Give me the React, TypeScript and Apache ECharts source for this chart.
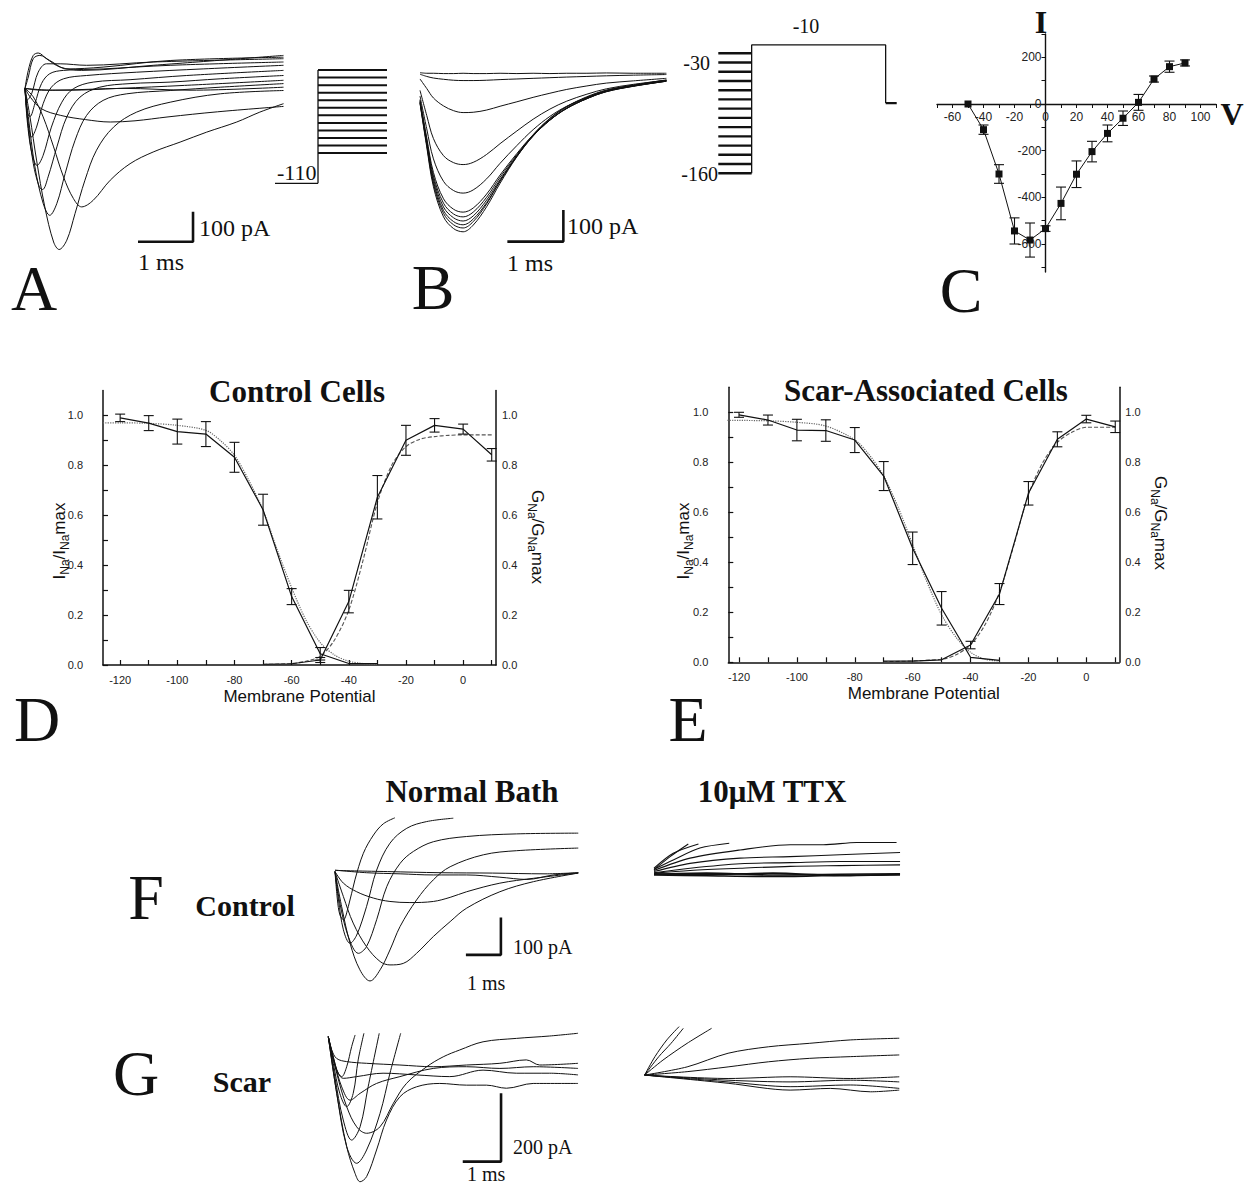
import React, { useEffect, useRef } from "react";
import * as echarts from "echarts";

const SERIF = "'Liberation Serif', 'Times New Roman', serif";
const SANS = "'Liberation Sans', Arial, sans-serif";
const INK = "#111";

// ---------------- Panel A : current traces (t ms, I pA) ----------------
const A_TRACES: number[][][] = [
  [[0,0],[0.1,-30],[0.3,-68],[0.65,-90],[1.1,-104],[1.55,-112],[2.0,-108],[2.6,-95],[3.5,-78],[4.7,-60]],
  [[0,0],[0.15,-28],[0.33,-95],[0.52,-195],[0.7,-295],[0.88,-367],[1.03,-395],[1.24,-373],[1.55,-306],[1.91,-251],[2.33,-212],[2.82,-179],[3.3,-146],[3.85,-112],[4.27,-79],[4.7,-51]],
  [[0,0],[0.09,-94],[0.21,-239],[0.36,-395],[0.52,-512],[0.62,-537],[0.76,-506],[0.91,-417],[1.09,-306],[1.3,-206],[1.61,-129],[2.03,-79],[2.64,-46],[3.55,-18],[4.7,-7]],
  [[0,0],[0.06,-94],[0.18,-261],[0.33,-383],[0.45,-423],[0.58,-383],[0.73,-284],[0.91,-173],[1.12,-90],[1.42,-40],[1.85,-18],[2.64,-7],[3.55,4],[4.7,16]],
  [[0,0],[0.04,-94],[0.15,-250],[0.26,-328],[0.32,-337],[0.42,-295],[0.58,-195],[0.76,-95],[1.0,-29],[1.36,4],[1.91,16],[2.64,21],[3.55,32],[4.7,43]],
  [[0,0],[0.04,-107],[0.12,-212],[0.22,-257],[0.33,-223],[0.48,-129],[0.67,-46],[0.88,-1],[1.24,21],[1.91,29],[2.94,43],[4.7,60]],
  [[0,0],[0.06,-117],[0.12,-162],[0.21,-129],[0.33,-51],[0.48,4],[0.7,32],[1.12,43],[2.03,54],[3.24,65],[4.7,77]],
  [[0,0],[0.04,-79],[0.09,-94],[0.18,-51],[0.3,16],[0.45,49],[0.7,60],[1.42,65],[2.64,77],[4.7,88]],
  [[0,0],[0.04,-39],[0.12,-18],[0.24,54],[0.39,82],[0.64,82],[1.12,77],[2.33,88],[4.7,99]],
  [[0,0],[0.06,38],[0.15,99],[0.27,110],[0.45,93],[0.76,65],[1.42,71],[2.64,93],[4.7,104]],
  [[0,0],[0.06,60],[0.15,110],[0.24,118],[0.39,99],[0.64,71],[1.03,60],[2.33,77],[4.7,110]],
  [[0,0],[0.5,-6],[1.8,0],[3.0,-6],[4.7,4]],
  [[0,0],[0.3,-6],[0.8,-6],[1.7,0],[2.9,10],[4.7,27]],
];
const A_PROTO_HOLD = -110;
const A_PROTO_STEPS = [-70, -60, -50, -40, -30, -20, -10, 0, 10, 20, 30, 40];

// ---------------- Panel B : steady-state inactivation traces ----------------
const B_TIME = [0, 0.12, 0.24, 0.42, 0.6, 0.77, 0.95, 1.19, 1.43, 1.73, 2.02, 2.32, 2.62, 2.98, 3.33, 3.81, 4.4];
const B_CURRENTS: number[][] = [
  [-97,-234,-360,-455,-492,-502,-481,-423,-349,-265,-197,-144,-107,-76,-55,-39,-23],
  [-95,-228,-351,-444,-480,-490,-470,-414,-342,-262,-196,-145,-108,-78,-56,-40,-24],
  [-93,-224,-344,-435,-470,-480,-462,-410,-342,-265,-200,-150,-112,-80,-58,-41,-25],
  [-91,-218,-335,-424,-458,-468,-452,-402,-337,-263,-200,-150,-113,-82,-59,-42,-26],
  [-88,-212,-326,-412,-446,-455,-440,-393,-330,-259,-198,-149,-113,-82,-60,-43,-27],
  [-85,-205,-315,-398,-431,-440,-427,-383,-323,-255,-196,-148,-112,-82,-60,-43,-27],
  [-74,-177,-272,-343,-372,-380,-370,-335,-286,-230,-180,-138,-106,-79,-58,-42,-27],
  [-56,-135,-208,-262,-284,-290,-283,-258,-224,-184,-147,-115,-90,-68,-51,-37,-24],
  [-20,-50,-80,-105,-120,-126,-125,-118,-106,-92,-78,-65,-53,-42,-33,-26,-18],
  [-5,-12,-17,-21,-24,-25,-25,-24,-22,-20,-18,-16,-14,-12,-10,-8,-6],
  [0,-2,-2,-3,-3,-2,-3,-3,-2,-3,-2,-3,-2,-2,-1,-2,-2],
];
const B_PROTO_PRE = [-160, -150, -140, -130, -120, -110, -100, -90, -80, -70, -60, -50, -40, -30];
const B_PROTO_TEST = -21;
const B_PROTO_AFTER = -84;

// ---------------- Panel C : I-V relation ----------------
const IV_V = [-50, -40, -30, -20, -10, 0, 10, 20, 30, 40, 50, 60, 70, 80, 90];
const IV_I = [0, -110, -300, -544, -583, -534, -426, -301, -204, -126, -61, 7, 107, 160, 176];
const IV_SEM = [0, 20, 40, 56, 73, 12, 70, 57, 44, 36, 31, 34, 13, 24, 13];
const C_X_TICKS = [-70,-60,-50,-40,-30,-20,-10,0,10,20,30,40,50,60,70,80,90,100,110];
const C_X_LABELS = [-60, -40, -20, 0, 20, 40, 60, 80, 100];
const C_Y_TICKS = [-700,-600,-500,-400,-300,-200,-100,0,100,200,300];
const C_Y_LABELS = [-600, -400, -200, 0, 200];

// ---------------- Panels D/E : inactivation & activation ----------------
const INACT_V = [-120, -110, -100, -90, -80, -70, -60, -50, -40, -30];
const ACT_V = [-70, -60, -50, -40, -30, -20, -10, 0, 10];

const D_INACT = [0.99, 0.969, 0.935, 0.925, 0.832, 0.622, 0.274, 0.045, 0.006, 0.006];
const D_INACT_SEM = [0.015, 0.03, 0.05, 0.05, 0.06, 0.062, 0.032, 0.025, 0, 0];
const D_ACT = [0.003, 0.005, 0.02, 0.254, 0.672, 0.9, 0.96, 0.945, 0.842];
const D_ACT_SEM = [0, 0, 0.01, 0.045, 0.087, 0.06, 0.027, 0.02, 0.025];
const D_INACT_FIT_V = [-126, -120, -110, -100, -90, -85, -80, -75, -70, -65, -60, -55, -50, -45, -40, -35, -30];
const D_INACT_FIT = [0.97, 0.97, 0.968, 0.96, 0.94, 0.9, 0.84, 0.74, 0.62, 0.46, 0.31, 0.18, 0.09, 0.04, 0.015, 0.006, 0.003];
const D_ACT_FIT_V = [-70, -60, -55, -50, -45, -40, -35, -30, -25, -20, -15, -10, -5, 0, 10];
const D_ACT_FIT = [0.002, 0.006, 0.015, 0.035, 0.1, 0.22, 0.42, 0.65, 0.8, 0.875, 0.905, 0.915, 0.92, 0.922, 0.922];

const E_INACT = [0.99, 0.969, 0.929, 0.927, 0.889, 0.745, 0.456, 0.216, 0.02, 0.008];
const E_INACT_SEM = [0.01, 0.02, 0.043, 0.043, 0.05, 0.058, 0.065, 0.067, 0, 0];
const E_ACT = [0.005, 0.005, 0.01, 0.069, 0.273, 0.676, 0.892, 0.973, 0.942];
const E_ACT_SEM = [0, 0, 0, 0.015, 0.042, 0.047, 0.03, 0.015, 0.023];
const E_INACT_FIT_V = [-124, -110, -100, -90, -80, -75, -70, -65, -60, -55, -50, -45, -40, -35, -30];
const E_INACT_FIT = [0.968, 0.966, 0.96, 0.945, 0.89, 0.83, 0.745, 0.62, 0.47, 0.32, 0.19, 0.1, 0.04, 0.012, 0.005];
const E_ACT_FIT_V = [-70, -50, -45, -40, -35, -30, -25, -20, -15, -10, -5, 0, 10];
const E_ACT_FIT = [0.002, 0.012, 0.03, 0.07, 0.15, 0.28, 0.47, 0.67, 0.8, 0.88, 0.92, 0.94, 0.94];

const DE_X_TICKS = [-120,-110,-100,-90,-80,-70,-60,-50,-40,-30,-20,-10,0,10];
const DE_X_LABELS = [-120, -100, -80, -60, -40, -20, 0];
const DE_Y_TICKS = [0, 0.1, 0.2, 0.3, 0.4, 0.5, 0.6, 0.7, 0.8, 0.9, 1.0];
const DE_Y_LABELS = [0, 0.2, 0.4, 0.6, 0.8, 1.0];

// ---------------- Panel F : control cell, normal bath & TTX ----------------
const F_NORMAL: number[][][] = [
  [[0,0],[0.07,-76],[0.14,-116],[0.24,-129],[0.38,-94],[0.57,-22],[0.81,49],[1.1,98],[1.38,128],[1.71,144]],
  [[0,0],[0.1,-76],[0.24,-156],[0.43,-192],[0.62,-170],[0.9,-94],[1.19,4],[1.57,76],[2.05,116],[2.62,134],[3.38,143]],
  [[0,0],[0.14,-85],[0.38,-174],[0.67,-219],[0.9,-201],[1.19,-129],[1.48,-40],[1.86,22],[2.24,54],[2.81,80],[3.76,94],[5.19,101],[6.95,103]],
  [[0,0],[0.19,-94],[0.43,-192],[0.71,-263],[1.0,-293],[1.29,-263],[1.57,-210],[1.86,-147],[2.33,-76],[2.81,-22],[3.29,13],[4.24,45],[5.19,56],[6.95,63]],
  [[0,0],[0.24,-67],[0.52,-138],[0.9,-201],[1.29,-241],[1.57,-250],[1.95,-246],[2.33,-219],[2.81,-174],[3.29,-134],[3.76,-98],[4.71,-54],[5.67,-27],[6.95,-4]],
  [[0,0],[0.24,-31],[0.62,-54],[1.1,-71],[1.57,-80],[2.14,-83],[2.81,-80],[3.29,-69],[3.76,-54],[4.71,-31],[5.67,-18],[6.95,-4]],
  [[0,4],[0.9,-3],[1.86,-6],[2.81,-9],[3.76,-9],[4.71,-15],[5.48,-21],[6.24,-9],[6.95,-3]],
  [[0,3],[1.5,0],[3.0,-3],[4.5,-4],[6.0,-6],[6.95,-3]],
];
const F_TTX: number[][][] = [
  [[0,12],[0.46,47],[0.98,81]],
  [[0,16],[0.55,56],[1.27,81]],
  [[0,13],[0.55,38],[1.31,70],[2.15,83]],
  [[0,10],[1.03,43],[2.46,65],[3.89,79],[4.84,79],[5.79,85],[6.27,85],[6.93,85]],
  [[0,7],[1.03,29],[2.46,43],[3.89,47],[5.31,52],[7.03,58]],
  [[0,4],[1.03,16],[2.46,28],[3.89,31],[5.31,34],[7.03,34]],
  [[0,3],[1.03,10],[2.46,16],[3.89,21],[5.31,23],[7.03,25]],
  [[0,0],[1.5,3],[3.4,-2],[5.31,0],[7.03,1]],
  [[0,-2],[1.5,-4],[3.4,-6],[5.31,-3],[7.03,-2]],
  [[0,1],[1.5,-1],[3.4,3],[5.31,-4],[7.03,0]],
];

// ---------------- Panel G : scar cell, normal bath & TTX ----------------
const G_NORMAL: number[][][] = [
  [[0,0],[0.09,-39],[0.22,-64],[0.48,-73],[1.0,-78],[1.87,-83],[2.74,-88],[3.61,-83],[4.48,-78],[5.17,-68],[5.52,-83],[6.52,-78]],
  [[0,0],[0.13,-59],[0.26,-107],[0.39,-122],[0.74,-117],[1.43,-107],[2.3,-112],[3.17,-117],[4.04,-98],[4.91,-107],[5.78,-107],[6.52,-112]],
  [[0,0],[0.17,-78],[0.35,-147],[0.57,-186],[0.83,-166],[1.26,-137],[1.87,-117],[2.74,-93],[3.61,-88],[4.48,-93],[5.35,-88],[6.52,-93]],
  [[0,0],[0.09,-49],[0.22,-98],[0.35,-117],[0.48,-88],[0.61,-29],[0.7,5]],
  [[0,0],[0.13,-78],[0.3,-166],[0.48,-205],[0.65,-166],[0.78,-68],[0.93,10]],
  [[0,0],[0.17,-117],[0.39,-244],[0.61,-303],[0.83,-264],[1.04,-147],[1.33,10]],
  [[0,0],[0.22,-166],[0.48,-322],[0.74,-371],[1.0,-332],[1.35,-225],[1.61,-107],[1.89,10]],
  [[0,0],[0.22,-166],[0.48,-322],[0.7,-401],[0.83,-425],[1.0,-410],[1.26,-332],[1.52,-244],[1.87,-176],[2.3,-147],[2.91,-137],[3.61,-142],[4.13,-142],[4.65,-151],[5.35,-137],[6.52,-137]],
  [[0,0],[0.22,-107],[0.48,-205],[0.74,-264],[1.0,-283],[1.35,-264],[1.7,-195],[2.04,-137],[2.57,-88],[3.0,-59],[3.43,-39],[4.04,-15],[4.91,-5],[5.78,2],[6.52,10]],
];
const G_TTX: number[][][] = [
  [[0,0],[0.27,54],[0.58,103],[0.9,142]],
  [[0,0],[0.37,54],[0.69,93],[1.01,137]],
  [[0,0],[0.48,44],[1.11,93],[1.75,137]],
  [[0,0],[1.11,24],[2.18,64],[3.24,83],[4.3,93],[5.37,103],[6.65,108]],
  [[0,0],[1.11,10],[2.18,24],[3.24,39],[4.3,49],[5.37,54],[6.65,59]],
  [[0,0],[2.18,-10],[3.8,-5],[5.37,-10],[6.65,-5]],
  [[0,0],[2.18,-15],[3.8,-20],[5.37,-15],[6.65,-20]],
  [[0,0],[2.18,-20],[3.8,-34],[5.37,-29],[6.65,-39]],
  [[0,0],[2.18,-24],[3.8,-44],[4.85,-39],[5.9,-49],[6.65,-44]],
];

// scale bars: 1 ms x 100 pA (200 pA in G)
const SCALE_MS = 1;
const SCALE_PA = 100;
const SCALE_PA_G = 200;

function buildOption() {
  const grids: any[] = [];
  const xAxes: any[] = [];
  const yAxes: any[] = [];
  const series: any[] = [];

  const hiddenGrid = (left: number, top: number, width: number, height: number, xr: number[], yr: number[]) => {
    const gi = grids.length;
    grids.push({ left, top, width, height, outerBoundsMode: "none" });
    xAxes.push({ gridIndex: gi, type: "value", min: xr[0], max: xr[1], show: false });
    yAxes.push({ gridIndex: gi, type: "value", min: yr[0], max: yr[1], show: false });
    return { x: xAxes.length - 1, y: yAxes.length - 1 };
  };

  const line = (ax: any, data: number[][], opts: any = {}) => {
    series.push({
      type: "line",
      xAxisIndex: ax.x,
      yAxisIndex: ax.y,
      data,
      showSymbol: false,
      symbol: "none",
      smooth: opts.smooth ?? false,
      silent: true,
      z: opts.z ?? 2,
      lineStyle: { color: opts.color ?? INK, width: opts.width ?? 1, type: opts.type ?? "solid" },
    });
  };

  const scaleBar = (ax: any, t0: number, i0: number, pa: number) => {
    line(ax, [[t0, i0], [t0 + SCALE_MS, i0], [t0 + SCALE_MS, i0 + pa]], { width: 2.6 });
  };

  const errorBars = (ax: any, xs: number[], ys: number[], errs: number[], cap: number) => {
    const data: number[][] = [];
    xs.forEach((x, i) => {
      if (errs[i] > 0) data.push([x, ys[i] - errs[i], ys[i] + errs[i]]);
    });
    series.push({
      type: "custom",
      xAxisIndex: ax.x,
      yAxisIndex: ax.y,
      data,
      silent: true,
      z: 3,
      encode: { x: 0, y: [1, 2] },
      renderItem: (_p: any, api: any) => {
        const x = api.value(0);
        const a = api.coord([x, api.value(1)]);
        const b = api.coord([x, api.value(2)]);
        const st = { stroke: INK, lineWidth: 1.1 };
        return {
          type: "group",
          children: [
            { type: "line", shape: { x1: a[0], y1: a[1], x2: b[0], y2: b[1] }, style: st },
            { type: "line", shape: { x1: a[0] - cap, y1: a[1], x2: a[0] + cap, y2: a[1] }, style: st },
            { type: "line", shape: { x1: b[0] - cap, y1: b[1], x2: b[0] + cap, y2: b[1] }, style: st },
          ],
        };
      },
    });
  };

  const zip = (xs: number[], ys: number[]) => xs.map((x, i) => [x, ys[i]]);

  // ---- A traces ----
  const axA = hiddenGrid(25, 20, 258.5, 240, [0, 4.7], [-572, 228]);
  A_TRACES.forEach((tr) => line(axA, tr, { smooth: 0.35 }));
  scaleBar(axA, 2.055, -511, SCALE_PA);

  // ---- A protocol ----
  const axAP = hiddenGrid(275, 62.5, 112, 128.35, [0, 1], [-120, 50]);
  const aStepX = 0.384;
  line(axAP, [[0, A_PROTO_HOLD], [aStepX, A_PROTO_HOLD]], { width: 1.3 });
  line(axAP, [[aStepX, A_PROTO_HOLD], [aStepX, A_PROTO_STEPS[A_PROTO_STEPS.length - 1]]], { width: 1.3 });
  A_PROTO_STEPS.forEach((v) => line(axAP, [[aStepX, v], [1, v]], { width: 2 }));

  // ---- B traces ----
  const axB = hiddenGrid(420, 20, 252, 240, [0, 4.5], [-591, 166]);
  B_CURRENTS.forEach((cur) => line(axB, zip(B_TIME, cur), { smooth: 0.35 }));
  scaleBar(axB, 1.56, -533, SCALE_PA);

  // ---- B protocol ----
  const axBP = hiddenGrid(718.3, 34.8, 178.4, 147.7, [0, 1], [-170, -10]);
  const bPreEnd = 0.187;
  const bTestEnd = 0.938;
  B_PROTO_PRE.forEach((v) => line(axBP, [[0, v], [bPreEnd, v]], { width: 2.4 }));
  line(axBP, [[bPreEnd, B_PROTO_PRE[0]], [bPreEnd, B_PROTO_TEST], [bTestEnd, B_PROTO_TEST], [bTestEnd, B_PROTO_AFTER]], { width: 1.3 });
  line(axBP, [[bTestEnd, B_PROTO_AFTER], [1, B_PROTO_AFTER]], { width: 2.2 });

  // ---- C : I-V (axes cross at the origin) ----
  {
    const gi = grids.length;
    const cLeft = 937, cTop = 34, cW = 279, cH = 238;
    const cXmin = -70, cXmax = 110, cYmin = -720, cYmax = 300;
    grids.push({ left: cLeft, top: cTop, width: cW, height: cH, outerBoundsMode: "none" });
    // distance from grid edges to the zero lines, derived from the axis ranges
    const xZeroUp = (cH * (0 - cYmin)) / (cYmax - cYmin);
    const yZeroRight = (cW * (0 - cXmin)) / (cXmax - cXmin);
    xAxes.push({
      gridIndex: gi, type: "value", min: cXmin, max: cXmax, position: "bottom", offset: -xZeroUp,
      axisLine: { show: true, onZero: false, lineStyle: { color: INK, width: 1.4 } },
      axisTick: { show: true, customValues: C_X_TICKS, length: 4, lineStyle: { color: INK, width: 1 } },
      axisLabel: { customValues: C_X_LABELS, fontSize: 12, fontFamily: SANS, color: "#222", margin: 7 },
      splitLine: { show: false },
    });
    yAxes.push({
      gridIndex: gi, type: "value", min: cYmin, max: cYmax, position: "left", offset: -yZeroRight,
      axisLine: { show: true, onZero: false, lineStyle: { color: INK, width: 1.4 } },
      axisTick: { show: true, customValues: C_Y_TICKS, length: 4, lineStyle: { color: INK, width: 1 } },
      axisLabel: { customValues: C_Y_LABELS, fontSize: 12, fontFamily: SANS, color: "#222", margin: 4 },
      splitLine: { show: false },
    });
    const axC = { x: xAxes.length - 1, y: yAxes.length - 1 };
    errorBars(axC, IV_V, IV_I, IV_SEM, 5);
    series.push({
      type: "line", xAxisIndex: axC.x, yAxisIndex: axC.y, data: zip(IV_V, IV_I),
      symbol: "rect", symbolSize: 7, showSymbol: true, silent: true, z: 4,
      itemStyle: { color: INK }, lineStyle: { color: INK, width: 1 },
    });
  }

  // ---- D / E ----
  const curvePanel = (left: number, top: number, width: number, height: number, xmin: number, xmax: number) => {
    const gi = grids.length;
    grids.push({ left, top, width, height, outerBoundsMode: "none" });
    xAxes.push({
      gridIndex: gi, type: "value", min: xmin, max: xmax,
      axisLine: { show: true, onZero: false, lineStyle: { color: INK, width: 1.5 } },
      axisTick: { show: true, inside: true, length: 5, customValues: DE_X_TICKS, lineStyle: { color: INK, width: 1.2 } },
      axisLabel: { customValues: DE_X_LABELS, fontSize: 11, fontFamily: SANS, color: "#222", margin: 9 },
      splitLine: { show: false },
      name: "Membrane Potential", nameLocation: "middle", nameGap: 23,
      nameTextStyle: { fontSize: 17, fontFamily: SANS, color: INK },
    });
    const xi = xAxes.length - 1;
    yAxes.push({
      gridIndex: gi, type: "value", min: 0, max: 1.1, position: "left",
      axisLine: { show: true, onZero: false, lineStyle: { color: INK, width: 1.5 } },
      axisTick: { show: true, inside: true, length: 5, customValues: DE_Y_TICKS, lineStyle: { color: INK, width: 1.2 } },
      axisLabel: { customValues: DE_Y_LABELS, formatter: (v: number) => v.toFixed(1), fontSize: 11, fontFamily: SANS, color: "#222", margin: 20 },
      splitLine: { show: false },
    });
    const yi = yAxes.length - 1;
    yAxes.push({
      gridIndex: gi, type: "value", min: 0, max: 1.1, position: "right",
      axisLine: { show: true, onZero: false, lineStyle: { color: INK, width: 1.5 } },
      axisTick: { show: false },
      axisLabel: { customValues: DE_Y_LABELS, formatter: (v: number) => v.toFixed(1), fontSize: 11, fontFamily: SANS, color: "#222", margin: 6 },
      splitLine: { show: false },
    });
    return { x: xi, y: yi };
  };

  const axD = curvePanel(103, 390.4, 393, 274.6, -126, 11.5);
  line(axD, zip(D_INACT_FIT_V, D_INACT_FIT), { color: "#666", type: "dotted", width: 1.2, smooth: 0.3 });
  line(axD, zip(D_ACT_FIT_V, D_ACT_FIT), { color: "#555", type: [4, 2], width: 1.1, smooth: 0.3 });
  line(axD, zip(INACT_V, D_INACT), { width: 1.2 });
  line(axD, zip(ACT_V, D_ACT), { width: 1.2 });
  errorBars(axD, INACT_V, D_INACT, D_INACT_SEM, 5);
  errorBars(axD, ACT_V, D_ACT, D_ACT_SEM, 5);

  const axE = curvePanel(728.3, 387.3, 391, 275, -123.7, 11.4);
  line(axE, zip(E_INACT_FIT_V, E_INACT_FIT), { color: "#666", type: "dotted", width: 1.2, smooth: 0.3 });
  line(axE, zip(E_ACT_FIT_V, E_ACT_FIT), { color: "#555", type: [4, 2], width: 1.1, smooth: 0.3 });
  line(axE, zip(INACT_V, E_INACT), { width: 1.2 });
  line(axE, zip(ACT_V, E_ACT), { width: 1.2 });
  errorBars(axE, INACT_V, E_INACT, E_INACT_SEM, 5);
  errorBars(axE, ACT_V, E_ACT, E_ACT_SEM, 5);

  // ---- F ----
  const axF = hiddenGrid(335, 810, 245, 190, [0, 7], [-344, 165]);
  F_NORMAL.forEach((tr) => line(axF, tr, { smooth: 0.35 }));
  scaleBar(axF, 3.74, -223, SCALE_PA);
  const axFT = hiddenGrid(654, 810, 252, 190, [0, 7.2], [-337, 172]);
  F_TTX.forEach((tr, i) => line(axFT, tr, { smooth: 0.3, width: i >= 7 ? 1.6 : 1.1 }));

  // ---- G ----
  const axG = hiddenGrid(328.3, 1000, 252.8, 186, [0, 6.6], [-437.5, 107.5]);
  G_NORMAL.forEach((tr) => line(axG, tr, { smooth: 0.35 }));
  scaleBar(axG, 3.51, -366, SCALE_PA_G);
  const axGT = hiddenGrid(644.6, 1000, 260.4, 186, [0, 6.8], [-325, 220]);
  G_TTX.forEach((tr) => line(axGT, tr, { smooth: 0.3 }));

  // ---- texts ----
  const txt = (text: string, x: number, y: number, size: number, o: any = {}) => ({
    type: "text", x, y, silent: true, z: 100,
    style: {
      text, fontSize: size, fontFamily: o.family ?? SERIF, fontWeight: o.weight ?? "normal", fill: INK,
      align: o.align ?? "center", verticalAlign: "middle",
      textAlign: o.align ?? "center", textVerticalAlign: "middle",
    },
  });
  const ratio = (letter: string, x: number, y: number, rotation: number) => ({
    type: "text", x, y, rotation, silent: true, z: 100,
    style: {
      text: `{m|${letter}}{s|Na}{m|/${letter}}{s|Na}{m|max}`,
      rich: {
        m: { fontSize: 17, fontFamily: SANS, fill: INK },
        s: { fontSize: 12, fontFamily: SANS, fill: INK, padding: [11, 0, 0, 0] },
      },
      align: "center", verticalAlign: "middle", textAlign: "center", textVerticalAlign: "middle",
    },
  });

  const graphic = [
    txt("A", 34, 288, 64),
    txt("B", 433, 287, 64),
    txt("C", 961, 290, 64),
    txt("D", 37, 719, 64),
    txt("E", 688, 719, 64),
    txt("F", 146, 897, 64),
    txt("G", 136, 1073, 64),
    txt("100 pA", 199, 228, 24, { align: "left" }),
    txt("1 ms", 138, 262, 24, { align: "left" }),
    txt("100 pA", 567, 226, 24, { align: "left" }),
    txt("1 ms", 507, 263, 24, { align: "left" }),
    txt("-110", 277, 172, 22, { align: "left" }),
    txt("-30", 710, 63, 20, { align: "right" }),
    txt("-160", 718, 174, 20, { align: "right" }),
    txt("-10", 806, 26, 20),
    txt("I", 1041, 22, 32, { weight: "bold" }),
    txt("V", 1232, 114, 32, { weight: "bold" }),
    txt("Control Cells", 297, 391, 31, { weight: "bold" }),
    txt("Scar-Associated Cells", 926, 390, 31, { weight: "bold" }),
    txt("Normal Bath", 472, 791, 31, { weight: "bold" }),
    txt("10\u03bcM TTX", 772, 791, 31, { weight: "bold" }),
    txt("Control", 245, 905, 30, { weight: "bold" }),
    txt("Scar", 242, 1081, 30, { weight: "bold" }),
    txt("100 pA", 513, 947, 20, { align: "left" }),
    txt("1 ms", 467, 983, 20, { align: "left" }),
    txt("200 pA", 513, 1147, 20, { align: "left" }),
    txt("1 ms", 467, 1174, 20, { align: "left" }),
    ratio("I", 59, 541, Math.PI / 2),
    ratio("G", 537, 537, -Math.PI / 2),
    ratio("I", 683, 541, Math.PI / 2),
    ratio("G", 1160, 523, -Math.PI / 2),
  ];

  return {
    animation: false,
    backgroundColor: "#ffffff",
    grid: grids,
    xAxis: xAxes,
    yAxis: yAxes,
    series,
    graphic: { elements: graphic },
  };
}

export default function App() {
  const ref = useRef<HTMLDivElement>(null);
  useEffect(() => {
    document.body.style.margin = "0";
    const chart = echarts.init(ref.current!, null, { renderer: "svg" });
    chart.setOption(buildOption() as any);
    return () => chart.dispose();
  }, []);
  return <div ref={ref} style={{ width: 1246, height: 1186, background: "#fff" }} />;
}
